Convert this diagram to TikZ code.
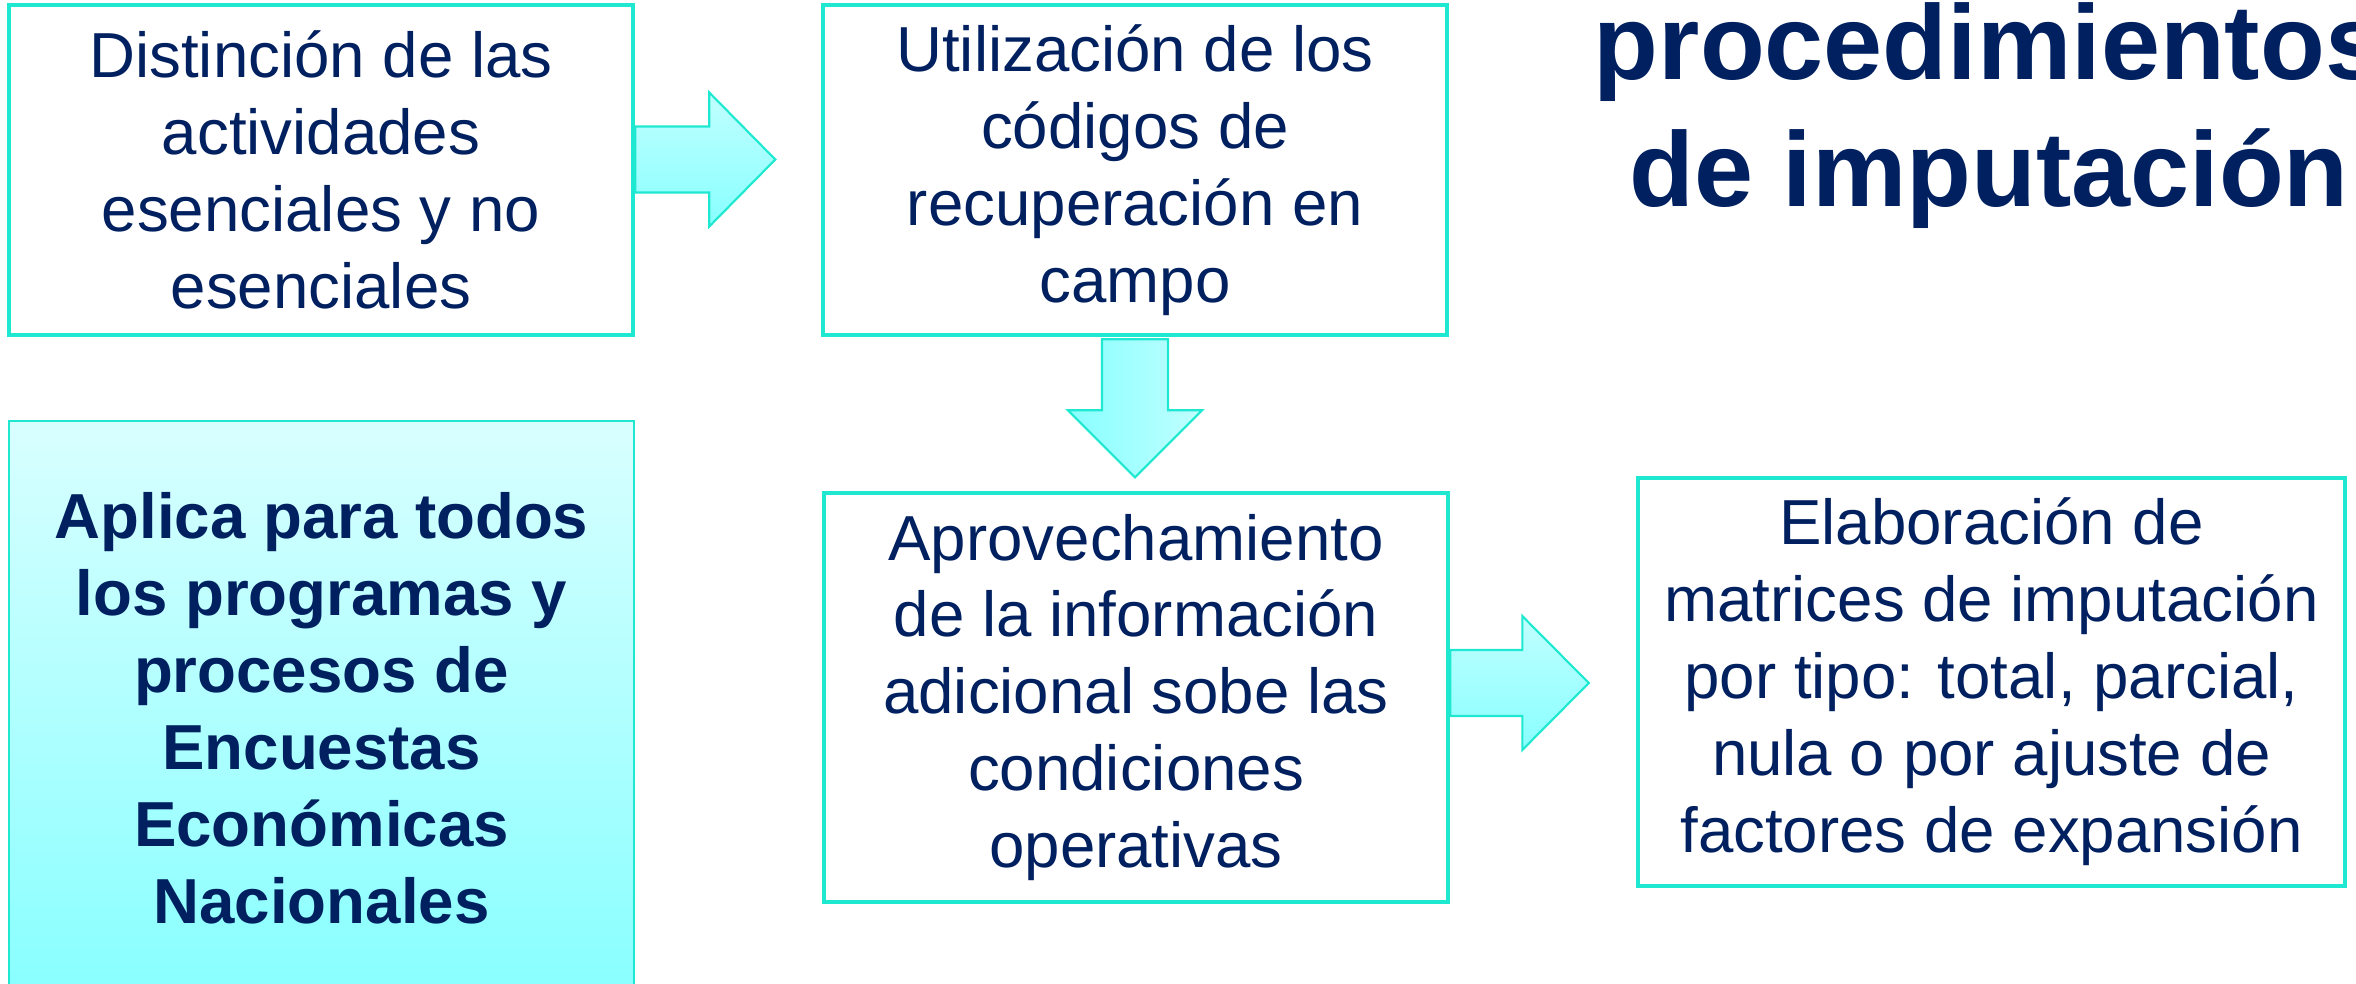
\documentclass[tikz,border=0pt]{standalone}
\usepackage{fontspec}
\setmainfont{Liberation Sans}
\usepackage{tikz}
\usetikzlibrary{calc}

\definecolor{turq}{RGB}{30,232,208}
\definecolor{navy}{RGB}{0,32,96}
\definecolor{cyanclaro}{RGB}{217,255,255}
\definecolor{cyanoscuro}{RGB}{136,255,255}

\tikzset{
  caja/.style={draw=turq, line width=1.3pt, fill=white, align=center, text=navy,
    font=\fontsize{18.1}{21.9}\selectfont, inner sep=0pt},
  resumen/.style={draw=turq, line width=0.5pt, top color=cyanclaro, bottom color=cyanoscuro,
    align=center, text=navy, font=\fontsize{18.1}{21.9}\selectfont\bfseries, inner sep=0pt},
  flecha/.style={draw=turq, line width=0.6pt, top color=cyanclaro!70!cyanoscuro, bottom color=cyanoscuro},
  flechab/.style={draw=turq, line width=0.6pt, left color=cyanoscuro, right color=cyanclaro!70!cyanoscuro}
}

\begin{document}
\begin{tikzpicture}
\useasboundingbox (0,0) rectangle (23.56,9.83);
\clip (0,0) rectangle (23.56,9.83);

\node[caja, minimum width=6.24cm, minimum height=3.30cm] (dist) at (3.21,8.13)
  {Distinción de las\\actividades\\esenciales y no\\esenciales};
\node[caja, minimum width=6.24cm, minimum height=3.30cm] (util) at (11.35,8.13)
  {Utilización de los\\códigos de\\recuperación en\\campo};
\node[caja, minimum width=6.24cm, minimum height=4.09cm] (aprov) at (11.36,2.855)
  {Aprovechamiento\\de la información\\adicional sobe las\\condiciones\\operativas};
\node[caja, minimum width=7.07cm, minimum height=4.08cm] (elab) at (19.915,3.01)
  {Elaboración de\\matrices de imputación\\por tipo: total, parcial,\\nula o por ajuste de\\factores de expansión};
\node[resumen, minimum width=6.25cm, minimum height=5.74cm] (aplica) at (3.215,2.75)
  {Aplica para todos\\los programas y\\procesos de\\Encuestas\\Económicas\\Nacionales};
\node[anchor=north, align=center, text=navy, inner sep=0pt,
  font=\fontsize{30.2}{36.1}\selectfont\bfseries] (titulo) at (19.89,9.81)
  {procedimientos\\de imputación};

\draw[flecha] ([yshift=4.35mm]dist.east) -- ++(0.74,0) -- ++(0,0.34) -- ++(0.66,-0.67)
  -- ++(-0.66,-0.67) -- ++(0,0.34) -- ++(-0.74,0) -- cycle;
\draw[flechab] ([xshift=-3.3mm,yshift=-0.2mm]util.south) -- ++(0,-0.71) -- ++(-0.34,0) -- ++(0.67,-0.67)
  -- ++(0.67,0.67) -- ++(-0.34,0) -- ++(0,0.71) -- cycle;
\draw[flecha] ([yshift=4.75mm]aprov.east) -- ++(0.72,0) -- ++(0,0.34) -- ++(0.665,-0.67)
  -- ++(-0.665,-0.67) -- ++(0,0.34) -- ++(-0.72,0) -- cycle;
\end{tikzpicture}
\end{document}
